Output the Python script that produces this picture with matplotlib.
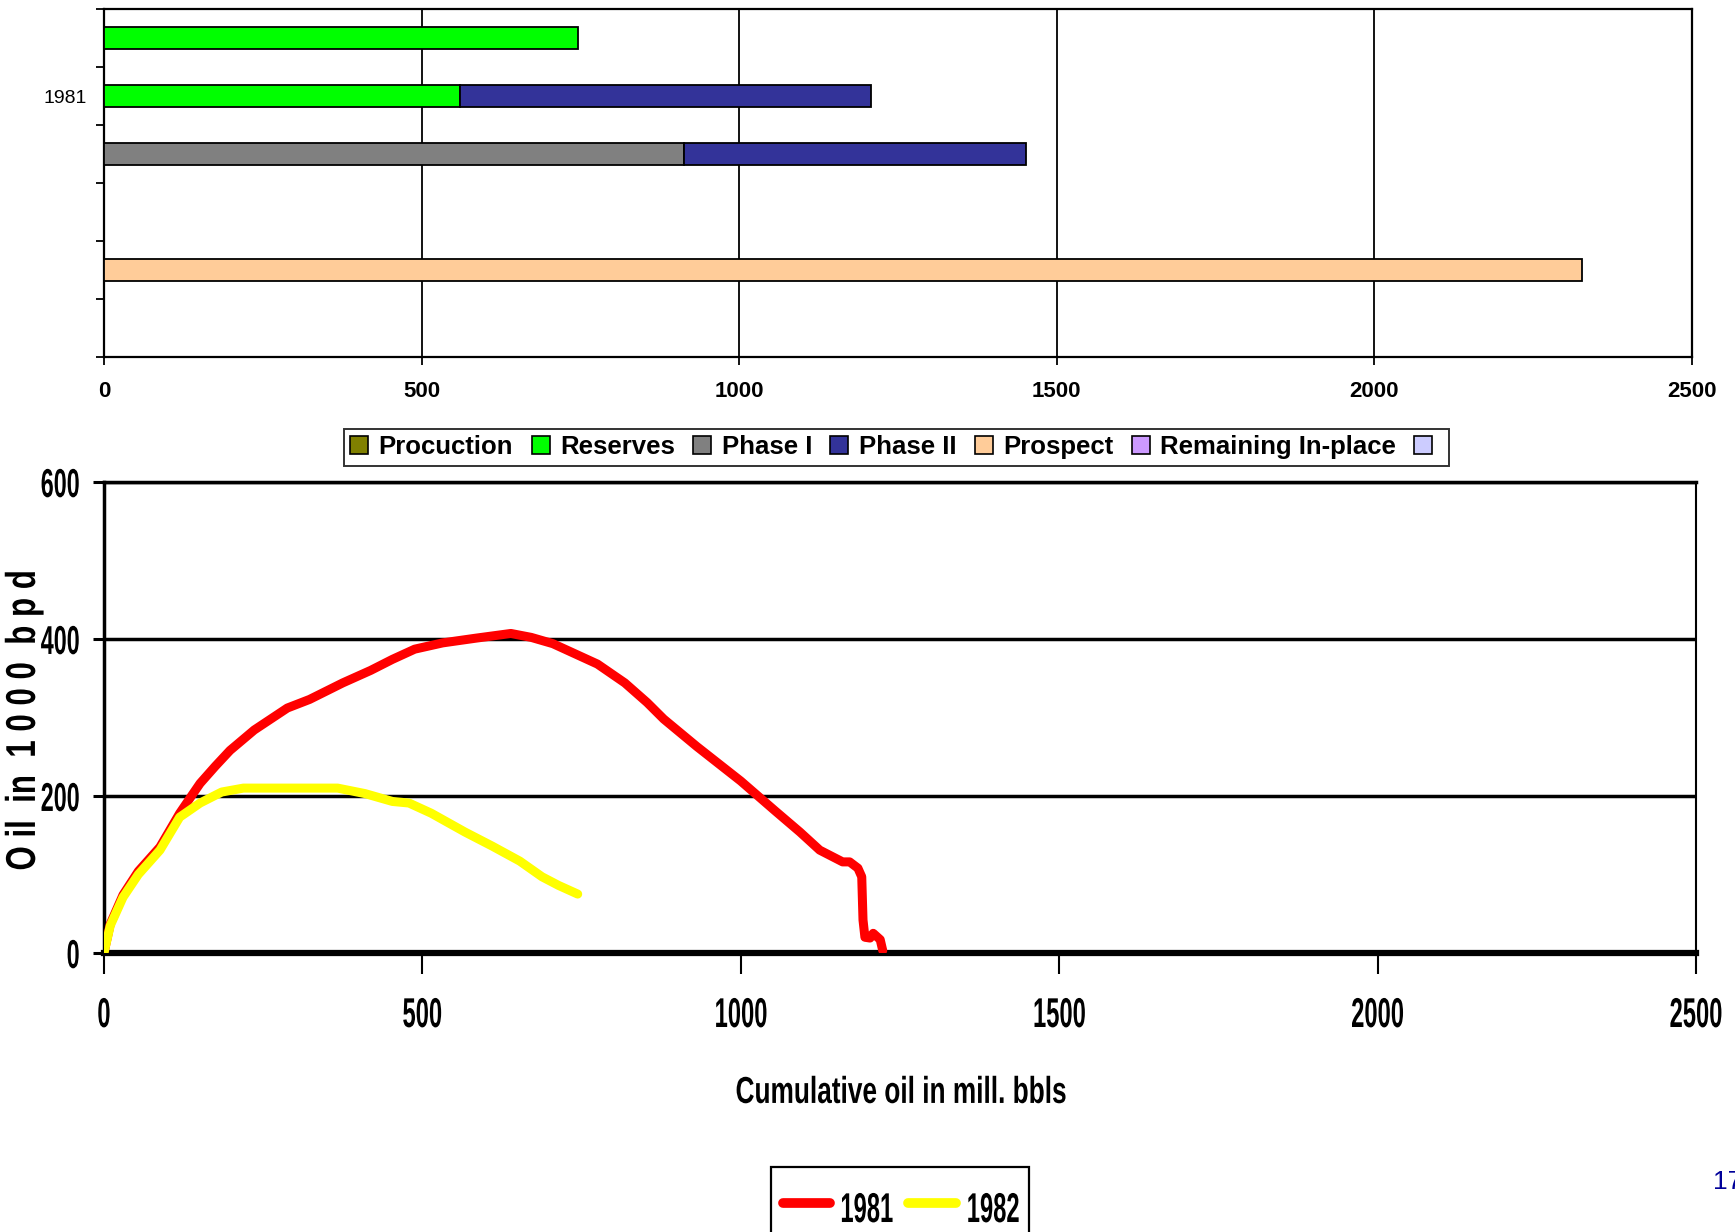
import matplotlib.pyplot as plt
from matplotlib.patches import Patch, Rectangle
from matplotlib.lines import Line2D
from matplotlib.patheffects import AbstractPathEffect
from matplotlib.transforms import Affine2D

# ---- top chart: stacked horizontal bars ----
rows = ["", "1981", "", "", "", ""]
series = ["Procuction", "Reserves", "Phase I", "Phase II", "Prospect", "Remaining In-place", ""]
colors = ["#808000", "#00FF00", "#808080", "#333399", "#FFCC99", "#CC99FF", "#CCCCFF"]
production = [0, 0, 0, 0, 0, 0]
reserves = [746, 561, 0, 0, 0, 0]
phase1 = [0, 0, 913, 0, 0, 0]
phase2 = [0, 647, 538, 0, 0, 0]
prospect = [0, 0, 0, 0, 2327, 0]
remaining = [0, 0, 0, 0, 0, 0]
blank = [0, 0, 0, 0, 0, 0]
bar_values = [production, reserves, phase1, phase2, prospect, remaining, blank]

# ---- bottom chart: rate vs cumulative ----
cum_1981 = [0, 10, 30, 54, 88, 119, 140, 151, 175, 198, 236, 288, 323,
            375, 419, 453, 488, 532, 584, 639, 671, 705, 775, 818, 853, 879, 931,
            1000, 1054, 1093, 1124, 1160, 1171, 1184, 1190, 1192, 1195, 1203, 1208,
            1219, 1223]
oil_1981 = [0, 37, 74, 104, 135, 178, 203, 216, 238, 258, 284, 312, 323,
            344, 360, 374, 387, 395, 401, 407, 402, 394, 368, 344, 319, 298, 263,
            219, 181, 154, 131, 116, 116, 108, 97, 42, 20, 19, 25, 17, 3]
cum_1982 = [0, 10, 30, 54, 88, 119, 151, 185, 219, 288, 367, 410, 453, 479, 514,
            567, 610, 653, 688, 714, 744]
oil_1982 = [0, 35, 71, 100, 131, 173, 191, 205, 210, 210, 210, 203, 193, 191, 178,
            154, 136, 117, 97, 86, 75]

xticks = [0, 500, 1000, 1500, 2000, 2500]
yticks = [0, 200, 400, 600]
years = ["1981", "1982"]
year_colors = ["#FF0000", "#FFFF00"]

arial = ["Liberation Sans", "DejaVu Sans"]


class Squeeze(AbstractPathEffect):
    """Draw text glyphs narrowed along the text direction (Arial Narrow look)."""

    def __init__(self, sx=1.0, anchor="center"):
        super().__init__()
        self.sx = sx
        self.anchor = anchor

    def draw_path(self, renderer, gc, tpath, affine, rgbFace=None):
        ext = tpath.get_extents()
        if self.anchor == "right":
            cx = ext.x1
        elif self.anchor == "left":
            cx = ext.x0
        else:
            cx = (ext.x0 + ext.x1) / 2
        t = Affine2D().translate(-cx, 0).scale(self.sx, 1).translate(cx, 0)
        renderer.draw_path(gc, tpath, t + affine, rgbFace)


fig = plt.figure(figsize=(17.35, 12.32), dpi=100)

# top axes
ax1 = fig.add_axes([0.0599, 0.7102, 0.9153, 0.2825])
left = [0] * len(rows)
handles = []
for vals, name, c in zip(bar_values, series, colors):
    for i, v in enumerate(vals):
        if v > 0:
            ax1.barh(i, v, left=left[i], height=0.39, color=c,
                     edgecolor="black", linewidth=1.3, zorder=3)
            left[i] += v
    handles.append(Patch(facecolor=c, edgecolor="black", linewidth=1.2))
ax1.set_ylim(len(rows) - 0.5, -0.5)
ax1.set_yticks([i - 0.5 for i in range(len(rows) + 1)])
ax1.set_yticklabels([])
ax1.set_yticks(range(len(rows)), minor=True)
ax1.set_yticklabels(rows, minor=True, family=arial, fontsize=14)
ax1.tick_params(axis="y", which="minor", length=0, pad=12)
ax1.tick_params(axis="y", which="major", length=6, width=1.3, direction="out")
ax1.set_xlim(0, 2500)
ax1.set_xticks(xticks)
ax1.set_xticklabels([str(t) for t in xticks], family=arial, fontsize=16, fontweight="bold")
ax1.tick_params(axis="x", length=6, width=1.3, pad=11)
ax1.grid(axis="x", color="black", linewidth=1.3, zorder=1)
for s in ax1.spines.values():
    s.set_linewidth(1.6)
    s.set_color("black")

leg1 = fig.legend(handles, series, loc="center", bbox_to_anchor=(0.5167, 0.6368), ncol=7,
                  frameon=True, fancybox=False, edgecolor="black", handlelength=0.7,
                  handleheight=0.7, handletextpad=0.4, columnspacing=0.72, borderpad=0.25,
                  prop={"family": arial, "weight": "bold", "size": 18.5})
leg1.get_frame().set_linewidth(1.4)

# bottom axes
ax2 = fig.add_axes([0.0599, 0.2265, 0.9176, 0.3823])
for cum, oil, yr, c, z in zip([cum_1981, cum_1982], [oil_1981, oil_1982], years, year_colors, [4, 5]):
    ax2.plot(cum, oil, color=c, linewidth=6.5, solid_capstyle="round",
             solid_joinstyle="round", zorder=z, label=yr)
ax2.set_xlim(0, 2500)
ax2.set_ylim(0, 600)
ax2.set_xticks(xticks)
ax2.set_yticks(yticks)
ax2.set_xticklabels([str(t) for t in xticks], family=arial, fontsize=30, fontweight="bold",
                    path_effects=[Squeeze(0.57)])
ax2.set_yticklabels([str(t) for t in yticks], family=arial, fontsize=29, fontweight="bold",
                    path_effects=[Squeeze(0.58, "right")])
ax2.tick_params(axis="x", length=15, width=1.5, pad=16)
ax2.tick_params(axis="y", length=8, width=2.2, pad=9)
ax2.grid(axis="y", color="black", linewidth=2.5, zorder=1)
ax2.spines["left"].set_linewidth(2.5)
ax2.spines["bottom"].set_linewidth(4.5)
ax2.spines["top"].set_linewidth(2.5)
ax2.spines["right"].set_linewidth(1.5)
ax2.set_xlabel("Cumulative oil in mill. bbls", family=arial, fontsize=27,
               fontweight="bold", path_effects=[Squeeze(0.70)])
ax2.xaxis.set_label_coords(0.5006, -0.259)
fig.text(0.0138, 0.4156, "O il  in  1 0 0 0  b p d", rotation=90, ha="center", va="center",
         family=arial, fontsize=30, fontweight="bold", path_effects=[Squeeze(0.75)])

# bottom legend (partly below the page edge, as in the original)
fig.add_artist(Rectangle((0.4444, -0.05), 0.1487, 0.1028, transform=fig.transFigure,
                         facecolor="white", edgecolor="black", linewidth=1.6))
line_x = [(0.4513, 0.4784), (0.5233, 0.5510)]
text_x = [0.4994, 0.5723]
for (x0, x1), tx, yr, c in zip(line_x, text_x, years, year_colors):
    fig.add_artist(Line2D([x0, x1], [0.0235, 0.0235], transform=fig.transFigure,
                          color=c, linewidth=7, solid_capstyle="round"))
    fig.text(tx, 0.0081, yr, ha="center", va="baseline", family=arial, fontsize=30,
             fontweight="bold", path_effects=[Squeeze(0.57)])

fig.text(0.9873, 0.0406, "17", color="#000099", fontsize=19, family=arial,
         ha="left", va="center")

fig.savefig("out.png", dpi=100)
